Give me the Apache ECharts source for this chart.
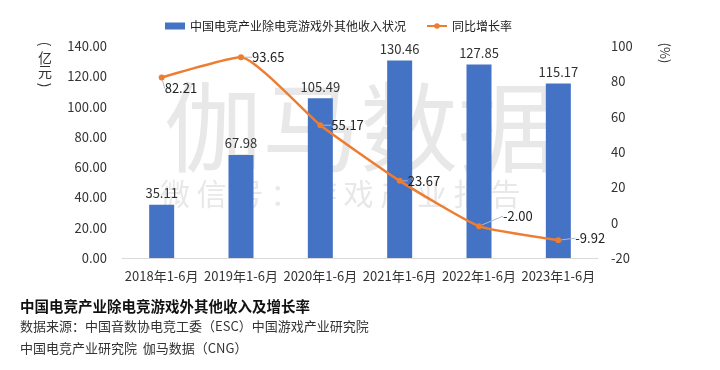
<!DOCTYPE html>
<html><head><meta charset="utf-8">
<script src="https://cdn.jsdelivr.net/npm/echarts@6/dist/echarts.min.js"></script>
<style>html,body{margin:0;padding:0;background:#fff}#c{width:720px;height:370px}</style>
</head><body><div id="c"></div>
<script>
const categories = ['2018年1-6月','2019年1-6月','2020年1-6月','2021年1-6月','2022年1-6月','2023年1-6月'];
const revenue = [35.11, 67.98, 105.49, 130.46, 127.85, 115.17];
const growth = [82.21, 93.65, 55.17, 23.67, -2.00, -9.92];
const leftTicks = {min: 0, max: 140, interval: 20};
const rightTicks = {min: -20, max: 100, interval: 20};
const seriesNames = ['中国电竞产业除电竞游戏外其他收入状况', '同比增长率'];
const titleText = '中国电竞产业除电竞游戏外其他收入及增长率';
const sourceLines = ['数据来源：中国音数协电竞工委（ESC）中国游戏产业研究院', '中国电竞产业研究院  伽马数据（CNG）'];

// label offsets for growth labels (style only)
const growthLabelShift = [[-5, 11], [3, 0], [3, 0], [0, 0], [16, -10], [9, -2]];

const FONT = '"Noto Sans CJK SC", "Noto Sans", sans-serif';
const rot = -Math.PI / 2;
function rotText(x, y, text, size) {
  return {type: 'group', x: x, y: y, rotation: rot, children: [
    {type: 'text', x: 0, y: 0, style: {text: text, font: size + 'px "Noto Sans CJK SC"', fill: '#333', align: 'center', verticalAlign: 'middle'}}
  ]};
}
function plainText(x, y, text, size) {
  return {type: 'text', x: x, y: y, style: {text: text, font: size + 'px "Noto Sans CJK SC"', fill: '#333', align: 'center', verticalAlign: 'middle'}};
}
const chart = echarts.init(document.getElementById('c'), null, {renderer: 'canvas'});
chart.setOption({
  animation: false,
  textStyle: {fontFamily: FONT},
  legend: {
    left: 160, top: 15, itemWidth: 20, itemHeight: 7, itemGap: 20,
    textStyle: {fontSize: 12, color: '#222', fontFamily: FONT},
    data: [{name: seriesNames[0], icon: 'rect'}, {name: seriesNames[1]}]
  },
  grid: {left: 122, right: 122, top: 46, bottom: 112},
  graphic: [
    {type: 'text', z: -10, left: 'center', top: 78, style: {text: '伽马数据', font: '98px "Noto Sans CJK SC"', fill: '#e8e8e8'}},
    {type: 'text', z: -10, left: 160, top: 179, style: {text: '微 信 号 ： 游 戏 产 业 报 告', font: '30px "Noto Sans CJK SC"', fill: '#e8e8e8'}},
    rotText(45, 44, '(', 14),
    plainText(45, 58, '亿', 14),
    plainText(45, 72, '元', 14),
    rotText(45, 85, ')', 14),
    rotText(665, 53, '(%)', 13),
    {type: 'text', left: 20, top: 299, style: {text: titleText, font: 'bold 14.5px "Noto Sans CJK SC"', fill: '#111'}},
    {type: 'text', left: 20, top: 320, style: {text: sourceLines[0], font: '13px "Noto Sans CJK SC"', fill: '#333'}},
    {type: 'text', left: 20, top: 342, style: {text: sourceLines[1], font: '13px "Noto Sans CJK SC"', fill: '#333'}}
  ],
  xAxis: {
    type: 'category', data: categories,
    axisLine: {lineStyle: {color: '#d9d9d9', width: 1}},
    axisTick: {show: false},
    axisLabel: {color: '#333', fontSize: 13, margin: 12, interval: 0}
  },
  yAxis: [
    {type: 'value', min: leftTicks.min, max: leftTicks.max, interval: leftTicks.interval,
     splitLine: {show: false}, axisLine: {show: false}, axisTick: {show: false},
     axisLabel: {color: '#333', fontSize: 13, margin: 15, formatter: v => v.toFixed(2)}},
    {type: 'value', min: rightTicks.min, max: rightTicks.max, interval: rightTicks.interval,
     splitLine: {show: false}, axisLine: {show: false}, axisTick: {show: false},
     axisLabel: {color: '#333', fontSize: 13, margin: 13}}
  ],
  series: [
    {name: seriesNames[0], type: 'bar', data: revenue, barWidth: 25, z: 3,
     itemStyle: {color: '#4472C4'},
     label: {show: true, position: 'top', distance: 5, color: '#333', fontSize: 13, formatter: p => p.value.toFixed(2)}},
    {name: seriesNames[1], type: 'line', yAxisIndex: 1, data: growth, smooth: 0.15, z: 4,
     symbol: 'circle', symbolSize: 6,
     lineStyle: {color: '#ED7D31', width: 2.5}, itemStyle: {color: '#ED7D31'},
     label: {show: true, position: 'right', distance: 5, color: '#222', fontSize: 13, formatter: p => p.value.toFixed(2)},
     labelLine: {show: true, lineStyle: {color: '#aabbd0', width: 1}},
     labelLayout: p => ({dx: growthLabelShift[p.dataIndex][0], dy: growthLabelShift[p.dataIndex][1]})
    }
  ]
});
</script></body></html>
